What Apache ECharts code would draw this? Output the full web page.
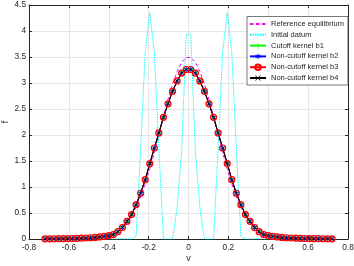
<!DOCTYPE html>
<html>
<head>
<meta charset="utf-8">
<script src="https://cdn.jsdelivr.net/npm/echarts@6/dist/echarts.min.js"></script>
<style>html,body{margin:0;padding:0;background:#fff}#c{width:354px;height:266px}</style>
</head>
<body>
<div id="c"></div>
<script>
var v = [-0.7200,-0.6971,-0.6743,-0.6514,-0.6286,-0.6057,-0.5829,-0.5600,-0.5371,-0.5143,-0.4914,-0.4686,-0.4457,-0.4229,-0.4000,-0.3771,-0.3543,-0.3314,-0.3086,-0.2857,-0.2629,-0.2400,-0.2171,-0.1943,-0.1714,-0.1486,-0.1257,-0.1029,-0.0800,-0.0571,-0.0343,-0.0114,
         0.0114,0.0343,0.0571,0.0800,0.1029,0.1257,0.1486,0.1714,0.1943,0.2171,0.2400,0.2629,0.2857,0.3086,0.3314,0.3543,0.3771,0.4000,0.4229,0.4457,0.4686,0.4914,0.5143,0.5371,0.5600,0.5829,0.6057,0.6286,0.6514,0.6743,0.6971,0.7200];

var fEquilibrium = [0,0,0,0,0.0001,0.0002,0.0005,0.0012,0.0024,0.0043,0.0078,0.0135,0.023,0.038,0.061,0.096,0.146,0.22,0.31,0.44,0.61,0.81,1.06,1.35,1.66,2.00,2.35,2.68,2.98,3.22,3.40,3.49,
                    3.49,3.40,3.22,2.98,2.68,2.35,2.00,1.66,1.35,1.06,0.81,0.61,0.44,0.31,0.22,0.146,0.096,0.061,0.038,0.023,0.0135,0.0078,0.0043,0.0024,0.0012,0.0005,0.0002,0.0001,0,0,0,0];

var fInitial = [0,0,0,0,0,0,0,0,0,0,0,0,0,0,0,0,0,0,0,0,0.05,1.74,3.6,4.35,3.6,1.74,0,0,0,0.6,1.7,3.94,
                3.94,1.7,0.6,0,0,0,1.74,3.6,4.35,3.6,1.74,0.05,0,0,0,0,0,0,0,0,0,0,0,0,0,0,0,0,0,0,0,0];

var fCutoffB1 = [0.004,0.004,0.005,0.006,0.007,0.008,0.010,0.012,0.015,0.019,0.024,0.030,0.040,0.050,0.065,0.085,0.14,0.22,0.34,0.47,0.66,0.88,1.14,1.45,1.75,2.04,2.34,2.60,2.84,3.04,3.19,3.26,
                 3.26,3.19,3.04,2.84,2.60,2.34,2.04,1.75,1.45,1.14,0.88,0.66,0.47,0.34,0.22,0.14,0.085,0.065,0.050,0.040,0.030,0.024,0.019,0.015,0.012,0.010,0.008,0.007,0.006,0.005,0.004,0.004];
var fNonCutoffB2 = [0.004,0.004,0.005,0.006,0.007,0.008,0.010,0.012,0.015,0.019,0.024,0.030,0.040,0.050,0.065,0.085,0.14,0.22,0.34,0.47,0.66,0.88,1.14,1.45,1.75,2.04,2.34,2.60,2.84,3.04,3.19,3.26,
                    3.26,3.19,3.04,2.84,2.60,2.34,2.04,1.75,1.45,1.14,0.88,0.66,0.47,0.34,0.22,0.14,0.085,0.065,0.050,0.040,0.030,0.024,0.019,0.015,0.012,0.010,0.008,0.007,0.006,0.005,0.004,0.004];
var fNonCutoffB3 = [0.004,0.004,0.005,0.006,0.007,0.008,0.010,0.012,0.015,0.019,0.024,0.030,0.040,0.050,0.065,0.085,0.14,0.22,0.34,0.47,0.66,0.88,1.14,1.45,1.75,2.04,2.34,2.60,2.84,3.04,3.19,3.26,
                    3.26,3.19,3.04,2.84,2.60,2.34,2.04,1.75,1.45,1.14,0.88,0.66,0.47,0.34,0.22,0.14,0.085,0.065,0.050,0.040,0.030,0.024,0.019,0.015,0.012,0.010,0.008,0.007,0.006,0.005,0.004,0.004];
var fNonCutoffB4 = [0.004,0.004,0.005,0.006,0.007,0.008,0.010,0.012,0.015,0.019,0.024,0.030,0.040,0.050,0.065,0.085,0.14,0.22,0.34,0.47,0.66,0.88,1.14,1.45,1.75,2.04,2.34,2.60,2.84,3.04,3.19,3.26,
                    3.26,3.19,3.04,2.84,2.60,2.34,2.04,1.75,1.45,1.14,0.88,0.66,0.47,0.34,0.22,0.14,0.085,0.065,0.050,0.040,0.030,0.024,0.019,0.015,0.012,0.010,0.008,0.007,0.006,0.005,0.004,0.004];

var seriesNames = ['Reference equilibrium','Initial datum','Cutoff kernel b1','Non-cutoff kernel b2','Non-cutoff kernel b3','Non-cutoff kernel b4'];
var xTicks = {min:-0.8, max:0.8, interval:0.2};
var yTicks = {min:0, max:4.5, interval:0.5};

function pairs(y){ return v.map(function(x,i){ return [x, y[i]]; }); }

var axisColor = '#262626';
var FONT = 'Liberation Sans';
var plusPath = 'path://M4.4,0H5.6V4.4H10V5.6H5.6V10H4.4V5.6H0V4.4H4.4Z';
var xPath = 'path://M0.8,0L5,4.2L9.2,0L10,0.8L5.8,5L10,9.2L9.2,10L5,5.8L0.8,10L0,9.2L4.2,5L0,0.8Z';
var starPath = 'path://M4.4,0H5.6V3.6L8.7,1.8L9.3,2.8L6.2,4.6V5.4L9.3,7.2L8.7,8.2L5.6,6.4V10H4.4V6.4L1.3,8.2L0.7,7.2L3.8,5.4V4.6L0.7,2.8L1.3,1.8L4.4,3.6Z';

function mkX(pos, show){
  return {type:'value', position:pos, min:xTicks.min, max:xTicks.max, interval:xTicks.interval,
    axisLine:{show:true, onZero:false, lineStyle:{color:axisColor, width:1}},
    axisTick:{show:true, inside:true, length:3, lineStyle:{color:axisColor}},
    axisLabel:{show:show, color:axisColor, fontSize:8.3, fontFamily:FONT, margin:5},
    splitLine:{show:show, lineStyle:{color:'#e6e6e6', width:1}},
    name: show ? 'v' : '', nameLocation:'middle', nameGap:15, nameMoveOverlap:false,
    nameTextStyle:{color:axisColor, fontSize:9, fontFamily:FONT}};
}
function mkY(pos, show){
  return {type:'value', position:pos, min:yTicks.min, max:yTicks.max, interval:yTicks.interval,
    axisLine:{show:true, onZero:false, lineStyle:{color:axisColor, width:1}},
    axisTick:{show:true, inside:true, length:3, lineStyle:{color:axisColor}},
    axisLabel:{show:show, color:axisColor, fontSize:8.3, fontFamily:FONT, margin:3},
    splitLine:{show:show, lineStyle:{color:'#e6e6e6', width:1}},
    name: show ? 'f' : '', nameLocation:'middle', nameGap:19, nameRotate:90, nameMoveOverlap:false,
    nameTextStyle:{color:axisColor, fontSize:9, fontFamily:FONT}};
}

var legendData = seriesNames.map(function(n, i){
  return i < 2 ? {name:n, itemStyle:{opacity:0}} : {name:n};
});

var chart = echarts.init(document.getElementById('c'), null, {renderer:'canvas'});
chart.setOption({
  animation:false,
  backgroundColor:'#fff',
  grid:{left:29, right:6, top:5, bottom:27, containLabel:false, outerBoundsMode:'none'},
  xAxis:[mkX('bottom', true), mkX('top', false)],
  yAxis:[mkY('left', true), mkY('right', false)],
  legend:{
    data:legendData, orient:'vertical', left:247, top:16.5,
    padding:[3.5,4,3,2], itemWidth:16, itemHeight:7, itemGap:2.8,
    backgroundColor:'#fff', borderColor:'#555', borderWidth:0.8,
    textStyle:{color:'#262626', fontSize:7.5, fontFamily:FONT},
    selectedMode:false
  },
  series:[
    {name:seriesNames[0], type:'line', data:pairs(fEquilibrium), showSymbol:false, symbol:'none',
      lineStyle:{color:'#ff00ff', width:1, type:[3.5,2.5]}, itemStyle:{color:'#ff00ff'}},
    {name:seriesNames[1], type:'line', data:pairs(fInitial), showSymbol:false, symbol:'none',
      lineStyle:{color:'#00ffff', width:1, type:[1.5,1]}, itemStyle:{color:'#00ffff'}},
    {name:seriesNames[2], type:'line', data:pairs(fCutoffB1), symbol:plusPath, symbolSize:6,
      lineStyle:{color:'#00ff00', width:1}, itemStyle:{color:'#00ff00'}},
    {name:seriesNames[3], type:'line', data:pairs(fNonCutoffB2), symbol:starPath, symbolSize:5,
      lineStyle:{color:'#0000ff', width:1}, itemStyle:{color:'#0000ff'}},
    {name:seriesNames[4], type:'line', data:pairs(fNonCutoffB3), symbol:'circle', symbolSize:6,
      lineStyle:{color:'#ff0000', width:1}, itemStyle:{color:'rgba(0,0,0,0)', borderColor:'#ff0000', borderWidth:1.2}},
    {name:seriesNames[5], type:'line', data:pairs(fNonCutoffB4), symbol:xPath, symbolSize:4,
      lineStyle:{color:'#000000', width:1}, itemStyle:{color:'#000000'}}
  ]
});
</script>
</body>
</html>
